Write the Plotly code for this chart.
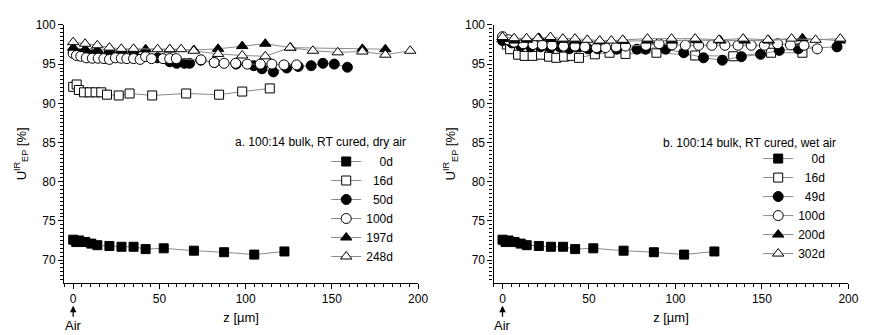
import plotly.graph_objects as go

# ---- depth profiles, 100:14 bulk, RT cured ----
# dry air (panel a)
z_a_0d = [0, 1.75, 3.5, 7, 10.5, 14, 21, 28, 35, 42, 52.5, 70, 87.5, 105, 122.5]
u_a_0d = [72.6, 72.3, 72.5, 72.3, 72.1, 71.9, 71.8, 71.7, 71.7, 71.4, 71.5, 71.2, 71.0, 70.7, 71.1]

z_a_16d = [0, 2, 3.3, 6.3, 9.6, 13, 16.3, 19.6, 26.4, 32.7, 45.8, 65.5, 84.6, 98, 114]
u_a_16d = [92.1, 92.4, 91.7, 91.4, 91.4, 91.4, 91.4, 91.1, 91.0, 91.25, 91.0, 91.25, 91.1, 91.5, 91.9]

z_a_50d = [0, 1.75, 3.5, 7, 10.5, 14, 21, 28, 35, 42, 49, 56, 60, 64.5, 67.5, 74, 81.8, 94.5,
           104.7, 109.5, 116.1, 123.8, 130.5, 138, 144.8, 151.4, 159]
u_a_50d = [96.5, 96.4, 96.3, 96.3, 96.3, 96.2, 96.2, 96.1, 96.1, 96.0, 95.8, 95.3, 95.1, 95.1, 95.1,
           95.5, 95.2, 95.0, 94.8, 94.4, 94.0, 94.5, 94.7, 94.8, 95.1, 95.0, 94.6]

z_a_100d = [0, 1.9, 4.4, 7.6, 11.1, 14.5, 17.8, 21, 24.5, 27.9, 31.1, 35, 38.8, 42, 45.4, 52.1, 56,
            59.8, 74.1, 81.8, 87.5, 94.2, 100.9, 108.5, 115.2, 122.2, 129.5]
u_a_100d = [96.35, 96.1, 96.0, 95.8, 95.75, 95.75, 95.7, 95.6, 95.8, 95.75, 95.7, 95.7, 95.6, 95.95,
            95.7, 95.7, 95.7, 95.7, 95.55, 95.2, 95.1, 95.1, 95.0, 95.0, 95.0, 94.9, 94.9]

z_a_197d = [0, 7, 14, 21, 28, 35, 42, 56, 70, 84, 98, 111.4, 126, 167.7, 181]
u_a_197d = [97.1, 96.9, 96.8, 96.8, 96.8, 96.8, 96.9, 96.85, 96.8, 96.95, 97.3, 97.6, 97.1, 96.95, 96.9]

z_a_248d = [0, 6.9, 14, 21, 27.9, 35, 48.9, 56, 62.6, 69.9, 84, 98, 111.4, 125.7, 139, 153.4,
            167.7, 181, 195.4]
u_a_248d = [97.8, 97.6, 97.4, 97.1, 96.95, 96.95, 96.9, 96.9, 96.9, 96.7, 96.3, 96.1, 96.0, 97.1,
            96.7, 96.5, 96.6, 96.2, 96.7]

# wet air (panel b)
z_b_0d = z_a_0d
u_b_0d = u_a_0d

z_b_16d = [0.5, 2.5, 4.4, 9, 12.8, 17.4, 22.3, 26.9, 31.1, 35.6, 40, 44.2, 53.4, 61.9, 71.1, 89,
           111.4, 133.4, 155.3, 173.4]
u_b_16d = [98.1, 97.5, 96.9, 96.2, 96.05, 96.05, 96.2, 95.95, 95.8, 95.95, 96.05, 95.8, 96.25, 96.45,
           96.3, 96.45, 96.1, 96.0, 96.45, 96.45]

z_b_49d = [0, 5.4, 10.5, 16.2, 21.9, 27.7, 33, 38.7, 44.2, 49.5, 54.9, 66, 77.7, 82.7, 94.3, 104.8,
           116.2, 127.1, 138.1, 149.2, 160, 171, 193.4]
u_b_49d = [98.0, 97.7, 97.3, 97.2, 97.2, 97.1, 97.2, 96.95, 97.2, 96.95, 96.95, 96.9, 96.9, 96.9,
           96.9, 96.45, 95.8, 95.5, 95.95, 96.25, 96.75, 96.95, 97.2]

z_b_100d = [0, 3.5, 6.7, 12, 17.7, 23, 28.6, 35.3, 41.9, 47.6, 54.3, 59.6, 65.7, 71.1, 82.9, 90.5,
            98, 105.7, 113.4, 121, 128.6, 136.2, 143.8, 151.4, 159, 166.5, 174.3, 182]
u_b_100d = [98.5, 98.1, 97.8, 97.6, 97.5, 97.45, 97.4, 97.3, 97.3, 97.2, 97.1, 97.1, 97.2, 97.3,
            97.4, 97.6, 97.45, 97.4, 97.4, 97.4, 97.4, 97.4, 97.4, 97.4, 97.6, 97.45, 97.4, 96.95]

z_b_200d = [0, 7, 14, 21, 28, 35, 42, 56, 70, 84, 98, 112, 126, 140, 154, 173.4, 195]
u_b_200d = [98.2, 98.0, 98.1, 98.35, 98.2, 98.1, 98.0, 97.9, 97.95, 98.0, 98.0, 98.05, 98.0, 98.0,
            98.0, 98.3, 98.0]

z_b_302d = [0, 6.7, 13.9, 20.4, 27.7, 34.9, 41.9, 49, 56.2, 62.9, 69.5, 83.8, 97.7, 111.4, 125.1,
            139.1, 153.4, 167.1, 181, 195.3]
u_b_302d = [98.45, 98.3, 98.3, 98.3, 98.45, 98.25, 98.25, 98.1, 98.0, 98.0, 98.1, 98.25, 98.25,
            98.25, 98.1, 98.25, 98.1, 98.25, 98.1, 98.25]

labels_a = ["0d", "16d", "50d", "100d", "197d", "248d"]
labels_b = ["0d", "16d", "49d", "100d", "200d", "302d"]

series_a = [(z_a_0d, u_a_0d), (z_a_16d, u_a_16d), (z_a_50d, u_a_50d),
            (z_a_100d, u_a_100d), (z_a_197d, u_a_197d), (z_a_248d, u_a_248d)]
series_b = [(z_b_0d, u_b_0d), (z_b_16d, u_b_16d), (z_b_49d, u_b_49d),
            (z_b_100d, u_b_100d), (z_b_200d, u_b_200d), (z_b_302d, u_b_302d)]

x_ticks = [0, 50, 100, 150, 200]
y_ticks = [70, 75, 80, 85, 90, 95, 100]

# marker style per ageing time: (symbol, fill, size)
styles = [("square", "black", 9), ("square", "white", 9), ("circle", "black", 10),
          ("circle", "white", 10), ("triangle-up", "black", 10), ("triangle-up", "white", 10)]

FONT = "Arial, 'Liberation Sans', sans-serif"
LINE_GREY = "#8a8a8a"


def pad(label):
    # right-align legend labels using figure spaces (digit width)
    return "\u2007" * (4 - len(label)) + label


fig = go.Figure()

for (zs, us), lab, (sym, fill, size) in zip(series_a, labels_a, styles):
    fig.add_trace(go.Scatter(
        x=zs, y=us, mode="lines+markers", name=pad(lab), xaxis="x", yaxis="y",
        line=dict(color=LINE_GREY, width=1),
        marker=dict(symbol=sym, color=fill, size=size, line=dict(color="black", width=1)),
        legend="legend"))

for (zs, us), lab, (sym, fill, size) in zip(series_b, labels_b, styles):
    fig.add_trace(go.Scatter(
        x=zs, y=us, mode="lines+markers", name=pad(lab), xaxis="x2", yaxis="y2",
        line=dict(color=LINE_GREY, width=1),
        marker=dict(symbol=sym, color=fill, size=size, line=dict(color="black", width=1)),
        legend="legend2"))

X_RANGE = [-5.2, 200]
Y_RANGE = [67.1, 100]
dom_y = [0.1591, 0.9454]
dom_x1 = [0.0746, 0.4856]
dom_x2 = [0.5732, 0.9854]

tickfont = dict(family=FONT, size=12, color="black")


def xaxis(domain, anchor):
    return dict(domain=domain, anchor=anchor, range=X_RANGE, tickmode="array", tickvals=x_ticks,
                ticks="outside", ticklen=5, tickwidth=1, tickcolor="black",
                minor=dict(dtick=5, tick0=0, ticklen=3, tickwidth=1, tickcolor="black", ticks="outside"),
                showline=True, linecolor="black", linewidth=1.2, showgrid=False, zeroline=False,
                tickfont=tickfont,
                title=dict(text="z [µm]", font=dict(family=FONT, size=13, color="black"), standoff=7))


def yaxis(anchor):
    return dict(domain=dom_y, anchor=anchor, range=Y_RANGE, tickmode="array", tickvals=y_ticks,
                ticks="outside", ticklen=5, tickwidth=1, tickcolor="black",
                minor=dict(dtick=0.5, tick0=70, ticklen=3, tickwidth=1, tickcolor="black", ticks="outside"),
                showline=True, linecolor="black", linewidth=1.2, showgrid=False, zeroline=False,
                tickfont=tickfont,
                title=dict(text="U<sup>IR</sup><sub>EP</sub> [%]",
                           font=dict(family=FONT, size=13, color="black"), standoff=6))


def top_axis(over, anchor):
    return dict(overlaying=over, side="top", anchor=anchor, range=X_RANGE, tickmode="array",
                tickvals=x_ticks, ticks="inside", ticklen=5, tickwidth=1, tickcolor="black",
                minor=dict(dtick=5, tick0=0, ticklen=3, tickwidth=1, tickcolor="black", ticks="inside"),
                showticklabels=False, showline=True, linecolor="black", linewidth=1.2,
                showgrid=False, zeroline=False)


def right_axis(over, anchor):
    return dict(overlaying=over, side="right", anchor=anchor, range=Y_RANGE, tickmode="array",
                tickvals=y_ticks, ticks="inside", ticklen=5, tickwidth=1, tickcolor="black",
                minor=dict(dtick=0.5, tick0=70, ticklen=3, tickwidth=1, tickcolor="black", ticks="inside"),
                showticklabels=False, showline=True, linecolor="black", linewidth=1.2,
                showgrid=False, zeroline=False)


legend_style = dict(font=dict(family=FONT, size=12, color="black"), bgcolor="rgba(0,0,0,0)",
                    borderwidth=0, itemsizing="trace", tracegroupgap=0,
                    xanchor="left", yanchor="top", itemwidth=30)

air_font = dict(family=FONT, size=13, color="black")

fig.update_layout(
    width=871, height=335, margin=dict(l=0, r=0, t=0, b=0),
    paper_bgcolor="white", plot_bgcolor="white",
    font=dict(family=FONT, size=12, color="black"),
    xaxis=xaxis(dom_x1, "y"), yaxis=yaxis("x"),
    xaxis2=xaxis(dom_x2, "y2"), yaxis2=yaxis("x2"),
    xaxis3=top_axis("x", "y"), yaxis3=right_axis("y", "x"),
    xaxis4=top_axis("x2", "y2"), yaxis4=right_axis("y2", "x2"),
    legend=dict(x=330 / 871, y=1 - 143 / 335, **legend_style),
    legend2=dict(x=767 / 871, y=1 - 140 / 335, **legend_style),
    annotations=[
        dict(text="a. 100:14 bulk, RT cured, dry air", xref="paper", yref="paper",
             x=413 / 871, y=1 - 138 / 335, xanchor="right", yanchor="middle", showarrow=False,
             font=dict(family=FONT, size=12, color="black")),
        dict(text="b. 100:14 bulk, RT cured, wet air", xref="paper", yref="paper",
             x=848 / 871, y=1 - 139 / 335, xanchor="right", yanchor="middle", showarrow=False,
             font=dict(family=FONT, size=12, color="black")),
        dict(text="Air", xref="x", yref="paper", x=0, y=1 - 305 / 335, showarrow=True,
             ax=0, ay=20, arrowhead=2, arrowsize=1, arrowwidth=1.3, arrowcolor="black",
             font=air_font),
        dict(text="Air", xref="x2", yref="paper", x=0, y=1 - 305 / 335, showarrow=True,
             ax=0, ay=20, arrowhead=2, arrowsize=1, arrowwidth=1.3, arrowcolor="black",
             font=air_font),
    ],
)

fig.write_html("out.html")
